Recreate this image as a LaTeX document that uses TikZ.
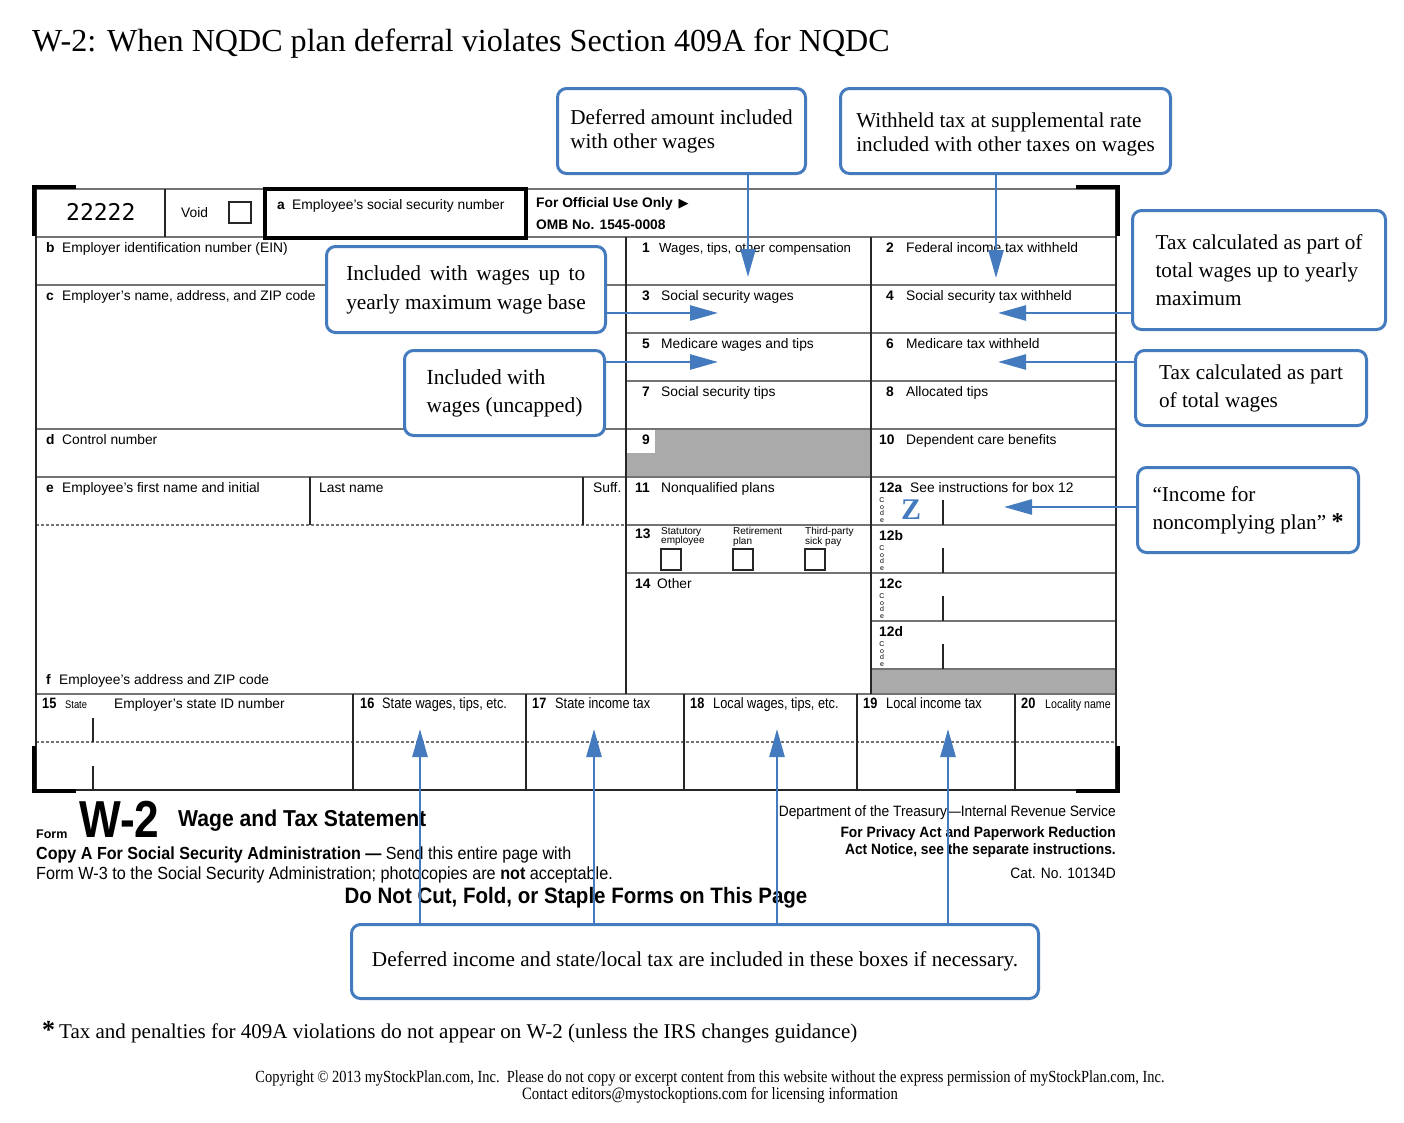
\documentclass[tikz,border=0pt]{standalone}
\usepackage{fontspec}
\setmainfont{Liberation Serif}
\setsansfont{Liberation Sans}
\newfontfamily\condsans[FakeStretch=0.85]{Liberation Sans}
\newfontfamily\condsansB[FakeStretch=0.92]{Liberation Sans}
\newfontfamily\condserif[FakeStretch=0.85]{Liberation Serif}
\newfontfamily\ocrfont{DejaVu Sans Mono}
\newfontfamily\symfont{DejaVu Sans}
\usetikzlibrary{arrows.meta}
\definecolor{cblue}{RGB}{68,122,190}
\definecolor{fgray}{RGB}{170,170,170}
\definecolor{lgray}{RGB}{115,115,115}
\tikzset{
  callout/.style={draw=cblue, line width=3pt, rounded corners=9pt, fill=white, inner sep=0pt, anchor=north west, align=left},
  conn/.style={draw=cblue, line width=2.6pt, -{Triangle[length=28pt,width=15pt]}},
  fline/.style={draw=lgray, line width=1.5pt},
  vline/.style={draw=black!85, line width=1.2pt},
  dline/.style={draw=lgray, line width=1.2pt, dash pattern=on 3pt off 2pt},
  cornermark/.style={draw=black, line width=4.5pt},
  ft/.style={anchor=base west, inner sep=0pt, font=\sffamily\fontsize{13.8}{15}\selectfont},
  fn/.style={anchor=base west, inner sep=0pt, font=\sffamily\bfseries\fontsize{13.8}{15}\selectfont},
  fc/.style={anchor=base west, inner sep=0pt, font=\condsans\fontsize{15}{16}\selectfont},
  fcb/.style={anchor=base west, inner sep=0pt, font=\condsans\bfseries\fontsize{15}{16}\selectfont},
  codebox/.style={inner sep=0pt, align=center, font=\sffamily\fontsize{7}{6.4}\selectfont},
  smalltxt/.style={anchor=north west, inner sep=0pt, align=left, font=\sffamily\fontsize{10}{9.6}\selectfont},
  below/.style={inner sep=0pt, font=\condsansB\fontsize{17.5}{18}\selectfont},
}
\newcommand{\FormLab}[6]{\node[fn] (#1n) at (#2,#3) {#4};\node[ft] (#1t) at (#5,#3) {#6};}
\newcommand{\FormCond}[6]{\node[fcb] (#1n) at (#2,#3) {#4};\node[fc] (#1t) at (#5,#3) {#6};}

\begin{document}
\begin{tikzpicture}[x=1pt,y=-1pt]
\fill[white] (0,0) rectangle (1404,1122);
\useasboundingbox (0,0) rectangle (1404,1122);

% title
\node[anchor=base west, inner sep=0pt, font=\fontsize{32.1}{36}\selectfont] (title) at (32,51) {W-2: When NQDC plan deferral violates Section 409A for NQDC};

% ---------- form: grey fills ----------
\fill[fgray] (626,429) rectangle (871,477);
\fill[white] (626,429) rectangle (655,453);
\fill[fgray] (871,669) rectangle (1116,694);

% ---------- form: lines ----------
\draw[fline] (36,189) -- (1116,189);
\draw[fline] (36,237) -- (1116,237);
\draw[fline] (36,285) -- (1116,285);
\draw[fline] (626,333) -- (1116,333);
\draw[fline] (626,381) -- (1116,381);
\draw[fline] (36,429) -- (1116,429);
\draw[fline] (36,477) -- (1116,477);
\draw[fline] (626,525) -- (1116,525);
\draw[dline] (36,525) -- (626,525);
\draw[fline] (626,573) -- (1116,573);
\draw[fline] (871,621) -- (1116,621);
\draw[fline] (871,669) -- (1116,669);
\draw[fline] (36,694) -- (1116,694);
\draw[dline] (36,742) -- (1116,742);
\draw[vline, line width=1.8pt] (36,189) -- (36,790) -- (1116,790) -- (1116,189);
\draw[vline] (165,189) -- (165,237);
\draw[vline] (626,237) -- (626,694);
\draw[vline] (871,237) -- (871,694);
\draw[vline] (310,477) -- (310,525);
\draw[vline] (583,477) -- (583,525);
\foreach \xx in {353,526,684,857,1015} \draw[vline] (\xx,694) -- (\xx,790);
\draw[vline] (93,718) -- (93,742);
\draw[vline] (93,766) -- (93,790);
\foreach \yy in {500,548,596,644} \draw[vline] (943,\yy) -- (943,\yy+25);
% check boxes
\draw[vline] (229,202) rectangle (251,223);
\draw[vline] (661,549) rectangle (681,570);
\draw[vline] (733,549) rectangle (753,570);
\draw[vline] (805,549) rectangle (825,570);
% box a
\draw[black, line width=3.5pt] (265,189) rectangle (526,238);
% corner marks
\draw[cornermark] (34,236) -- (34,187) -- (76,187);
\draw[cornermark] (1076,187) -- (1118,187) -- (1118,236);
\draw[cornermark] (34,746) -- (34,791) -- (76,791);
\draw[cornermark] (1076,791) -- (1118,791) -- (1118,746);

% ---------- form: texts ----------
\node[anchor=base west, inner sep=0pt, font=\ocrfont\fontsize{23}{23}\selectfont] (num) at (66,220) {22222};
\node[ft] (void) at (181,217) {Void};
\FormLab{la}{277}{209}{a}{292}{Employee’s social security number}
\node[anchor=base west, inner sep=0pt, font=\sffamily\bfseries\fontsize{13.8}{15}\selectfont] (offuse) at (536,207) {For Official Use Only\hspace{6pt}{\symfont\fontsize{13}{13}\selectfont ▶}};
\node[fn] (omb) at (536,229) {OMB No. 1545-0008};
\FormLab{lb}{46}{252}{b}{62}{Employer identification number (EIN)}
\FormLab{lc}{46}{300}{c}{62}{Employer’s name, address, and ZIP code}
\FormLab{ld}{46}{444}{d}{62}{Control number}
\FormLab{le}{46}{492}{e}{62}{Employee’s first name and initial}
\node[ft] (lname) at (319,492) {Last name};
\node[ft] (suff) at (593,492) {Suff.};
\FormLab{lf}{46}{684}{f}{59}{Employee’s address and ZIP code}

\FormLab{b1}{642}{252}{1}{659}{\fontsize{13.2}{15}\selectfont Wages, tips, other compensation}
\FormLab{b2}{886}{252}{2}{906}{Federal income tax withheld}
\FormLab{b3}{642}{300}{3}{661}{Social security wages}
\FormLab{b4}{886}{300}{4}{906}{Social security tax withheld}
\FormLab{b5}{642}{348}{5}{661}{Medicare wages and tips}
\FormLab{b6}{886}{348}{6}{906}{Medicare tax withheld}
\FormLab{b7}{642}{396}{7}{661}{Social security tips}
\FormLab{b8}{886}{396}{8}{906}{Allocated tips}
\node[fn] (b9n) at (642,444) {9};
\FormLab{b10}{879}{444}{10}{906}{Dependent care benefits}
\FormLab{b11}{635}{492}{11}{661}{Nonqualified plans}
\FormLab{b12a}{879}{492}{12a}{910}{See instructions for box 12}
\node[fn] (b13n) at (635,538) {13};
\node[smalltxt] (s13a) at (661,527) {Statutory\\employee};
\node[smalltxt] (s13b) at (733,527) {Retirement\\plan};
\node[smalltxt] (s13c) at (805,527) {Third-party\\sick pay};
\node[fn] (b12bn) at (879,540) {12b};
\FormLab{b14}{635}{588}{14}{657}{Other}
\node[fn] (b12cn) at (879,588) {12c};
\node[fn] (b12dn) at (879,636) {12d};
\node[codebox] (ca) at (882,510) {C\\o\\d\\e};
\node[codebox] (cb) at (882,558) {C\\o\\d\\e};
\node[codebox] (cc) at (882,606) {C\\o\\d\\e};
\node[codebox] (cd) at (882,654) {C\\o\\d\\e};
\node[inner sep=0pt, text=cblue, font=\bfseries\fontsize{30}{30}\selectfont] (Z) at (911,510) {Z};

\FormCond{b15}{42}{708}{15}{65}{\fontsize{11}{12}\selectfont State}
\node[ft] (b15t2) at (114,708) {Employer’s state ID number};
\FormCond{b16}{360}{708}{16}{382}{State wages, tips, etc.}
\FormCond{b17}{532}{708}{17}{555}{State income tax}
\FormCond{b18}{690}{708}{18}{713}{Local wages, tips, etc.}
\FormCond{b19}{863}{708}{19}{886}{Local income tax}
\FormCond{b20}{1021}{708}{20}{1045}{\fontsize{12.5}{13}\selectfont Locality name}

% ---------- below the form ----------
\node[anchor=base west, inner sep=0pt, font=\sffamily\bfseries\fontsize{12.5}{13}\selectfont] (formw) at (36,838) {Form};
\node[anchor=base west, inner sep=0pt, font=\condsans\bfseries\fontsize{52}{52}\selectfont] (w2) at (79,837) {W-2};
\node[below, anchor=base west, font=\condsansB\bfseries\fontsize{23}{24}\selectfont] (wts) at (178,826) {Wage and Tax Statement};
\node[below, anchor=base west] (copya) at (36,859) {\bfseries Copy A For Social Security Administration — \mdseries Send this entire page with};
\node[below, anchor=base west, font=\condsansB\fontsize{17.6}{18}\selectfont] (formw3) at (36,879) {Form W-3 to the Social Security Administration; photocopies are \textbf{not} acceptable.};
\node[below, anchor=base, font=\condsansB\bfseries\fontsize{22.3}{23}\selectfont] (dnc) at (576,903) {Do Not Cut, Fold, or Staple Forms on This Page};
\node[below, anchor=base east, font=\condsansB\fontsize{15}{16}\selectfont] (dept) at (1116,816) {Department of the Treasury—Internal Revenue Service};
\node[below, anchor=base east, font=\condsansB\bfseries\fontsize{15}{16}\selectfont] (priv1) at (1116,837) {For Privacy Act and Paperwork Reduction};
\node[below, anchor=base east, font=\condsansB\bfseries\fontsize{15}{16}\selectfont] (priv2) at (1116,854) {Act Notice, see the separate instructions.};
\node[below, anchor=base east, font=\condsansB\fontsize{15}{16}\selectfont] (cat) at (1116,878) {Cat. No. 10134D};

% footnote and copyright
\node[anchor=base west, inner sep=0pt, font=\fontsize{21}{24}\selectfont] (foot) at (42,1038) {{\bfseries\fontsize{26}{26}\selectfont *}\hspace{4pt}Tax and penalties for 409A violations do not appear on W-2 (unless the IRS changes guidance)};
\node[anchor=base, inner sep=0pt, font=\condserif\fontsize{17}{18}\selectfont] (copy1) at (710,1082) {Copyright © 2013 myStockPlan.com, Inc.\ \ Please do not copy or excerpt content from this website without the express permission of myStockPlan.com, Inc.};
\node[anchor=base, inner sep=0pt, font=\condserif\fontsize{17.3}{18}\selectfont] (copy2) at (710,1099) {Contact editors@mystockoptions.com for licensing information};

% ---------- callouts ----------
\node[callout, minimum width=248pt, minimum height=85pt, font=\fontsize{21.2}{24}\selectfont] (A) at (556,87) {Deferred amount included\\with other wages};
\node[callout, minimum width=330pt, minimum height=85pt, font=\fontsize{21.2}{24}\selectfont] (B) at (839,87) {\rule{0pt}{21pt}Withheld tax at supplemental rate\\included with other taxes on wages};
\node[callout, minimum width=279pt, minimum height=86pt, font=\fontsize{21.4}{29}\selectfont] (C) at (325,245) {\makebox[239pt][s]{Included with wages up to}\\yearly maximum wage base};
\node[callout, minimum width=200pt, minimum height=85pt, font=\fontsize{21.5}{28}\selectfont] (D) at (403,349) {Included with\\wages (uncapped)};
\node[callout, minimum width=253pt, minimum height=119pt, font=\fontsize{21.2}{28}\selectfont] (E) at (1131,209) {Tax calculated as part of\\total wages up to yearly\\maximum};
\node[callout, minimum width=231pt, minimum height=75pt, font=\fontsize{21.2}{28}\selectfont] (F) at (1134,349) {Tax calculated as part\\of total wages};
\node[callout, minimum width=221pt, minimum height=85pt, font=\fontsize{21.2}{28}\selectfont] (G) at (1136,466) {“Income for\\noncomplying plan” {\bfseries\fontsize{24}{24}\selectfont *}};
\node[callout, minimum width=687pt, minimum height=74pt, align=center, font=\fontsize{21.2}{24}\selectfont] (H) at (350,923) {Deferred income and state/local tax are included in these boxes if necessary.};

% ---------- connectors ----------
\coordinate (tA) at (748,277);
\coordinate (tB) at (996,278);
\coordinate (tC) at (718,313);
\coordinate (tD) at (718,362);
\coordinate (tE) at (998,313);
\coordinate (tF) at (998,362);
\coordinate (tG) at (1004,507);
\coordinate (t16) at (420,729);
\coordinate (t17) at (594,729);
\coordinate (t18) at (777,729);
\coordinate (t19) at (948,729);
\draw[conn] (A.south -| tA) -- (tA);
\draw[conn] (B.south -| tB) -- (tB);
\draw[conn] (C.east |- tC) -- (tC);
\draw[conn] (D.east |- tD) -- (tD);
\draw[conn] (E.west |- tE) -- (tE);
\draw[conn] (F.west |- tF) -- (tF);
\draw[conn] (G.west |- tG) -- (tG);
\draw[conn] (H.north -| t16) -- (t16);
\draw[conn] (H.north -| t17) -- (t17);
\draw[conn] (H.north -| t18) -- (t18);
\draw[conn] (H.north -| t19) -- (t19);
\end{tikzpicture}
\end{document}
